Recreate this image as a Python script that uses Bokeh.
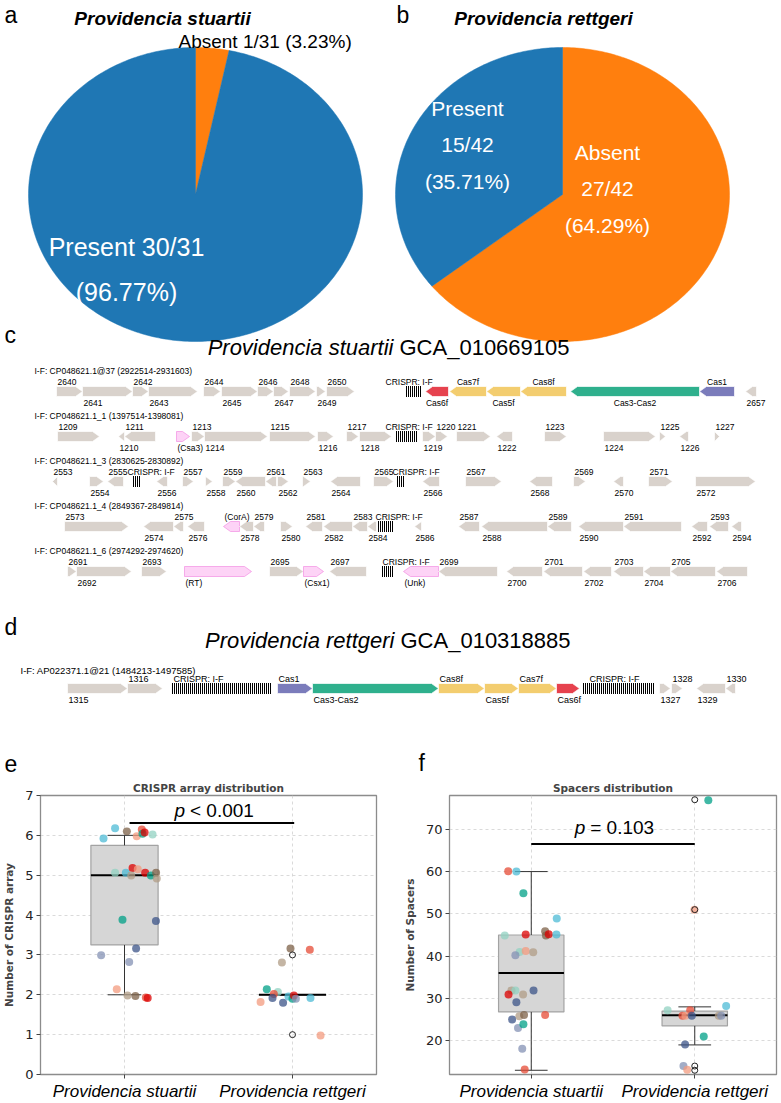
import numpy as np
from bokeh.plotting import figure
from bokeh.layouts import column, row
from bokeh.models import Range1d, FixedTicker
from bokeh.core.properties import value
from bokeh.embed import file_html
from bokeh.resources import INLINE

W = 781
H_TOP = 778
H_BOT = 1103 - H_TOP

SANS = "Liberation Sans"
MPL = "DejaVu Sans"

# ---------------- pie data ----------------
pie_labels = ["Absent", "Present"]
stuartii_counts = [1, 30]
rettgeri_counts = [27, 15]
pie_colors = ["#ff7f0e", "#1f77b4"]

# ---------------- gene neighbourhoods (track units) ----------------
# (label, start, end, strand, kind, label side)
ps_headers = [
    "I-F: CP048621.1@37 (2922514-2931603)",
    "I-F: CP048621.1_1 (1397514-1398081)",
    "I-F: CP048621.1_3 (2830625-2830892)",
    "I-F: CP048621.1_4 (2849367-2849814)",
    "I-F: CP048621.1_6 (2974292-2974620)",
]
ps_row1 = [
    ("2640", 56, 82, 1, "g", "a"), ("2641", 82, 132, 1, "g", "b"),
    ("2642", 132, 148, 1, "g", "a"), ("2643", 148, 197, 1, "g", "b"),
    ("2644", 203, 220, 1, "g", "a"), ("2645", 221, 257, 1, "g", "b"),
    ("2646", 257, 273, 1, "g", "a"), ("2647", 273, 288, 1, "g", "b"),
    ("2648", 289, 315, 1, "g", "a"), ("2649", 316, 325, 1, "g", "b"),
    ("2650", 326, 354, 1, "g", "a"), ("CRISPR: I-F", 406, 420, 0, "crispr", "a"),
    ("Cas6f", 425, 448, -1, "red", "b"), ("Cas7f", 449, 486, -1, "yellow", "a"),
    ("Cas5f", 486, 520, -1, "yellow", "b"), ("Cas8f", 520, 566, -1, "yellow", "a"),
    ("Cas3-Cas2", 570, 699, -1, "green", "b"), ("Cas1", 699, 734, -1, "purple", "a"),
    ("2657", 745, 756, -1, "g", "b"),
]
ps_row2 = [
    ("1209", 57, 99, 1, "g", "a"), ("1210", 118, 124, -1, "g", "b"),
    ("1211", 124, 155, -1, "g", "a"), ("(Csa3)", 176, 189, 1, "pink", "b"),
    ("1213", 191, 204, 1, "g", "a"), ("1214", 204, 267, 1, "g", "b"),
    ("1215", 269, 315, 1, "g", "a"), ("1216", 317, 333, 1, "g", "b"),
    ("1217", 346, 358, 1, "g", "a"), ("1218", 359, 391, 1, "g", "b"),
    ("CRISPR: I-F", 396, 417, 0, "crispr", "a"), ("1219", 422, 435, 1, "g", "b"),
    ("1220", 435, 447, 1, "g", "a"), ("1221", 456, 490, 1, "g", "a"),
    ("1222", 496, 512, -1, "g", "b"), ("1223", 544, 566, 1, "g", "a"),
    ("1224", 603, 655, 1, "g", "b"), ("1225", 659, 665, 1, "g", "a"),
    ("1226", 679, 688, -1, "g", "b"), ("1227", 714, 719, 1, "g", "a"),
]
ps_row3 = [
    ("2553", 52, 57, -1, "g", "a"), ("2554", 89, 103, 1, "g", "b"),
    ("2555", 107, 123, -1, "g", "a"), ("CRISPR: I-F", 133, 139, 0, "crispr", "a"),
    ("2556", 156, 167, -1, "g", "b"), ("2557", 182, 193, 1, "g", "a"),
    ("2558", 205, 212, 1, "g", "b"), ("2559", 222, 235, 1, "g", "a"),
    ("2560", 235, 265, -1, "g", "b"), ("2561", 265, 276, -1, "g", "a"),
    ("2562", 277, 288, 1, "g", "b"), ("2563", 302, 310, 1, "g", "a"),
    ("2564", 330, 360, -1, "g", "b"), ("2565", 373, 393, 1, "g", "a"),
    ("CRISPR: I-F", 397, 404, 0, "crispr", "a"), ("2566", 422, 439, -1, "g", "b"),
    ("2567", 465, 501, 1, "g", "a"), ("2568", 529, 552, -1, "g", "b"),
    ("2569", 573, 585, 1, "g", "a"), ("2570", 613, 623, -1, "g", "b"),
    ("2571", 648, 672, 1, "g", "a"), ("2572", 695, 755, 1, "g", "b"),
]
ps_row4 = [
    ("2573", 64, 128, 1, "g", "a"), ("2574", 143, 173, -1, "g", "b"),
    ("2575", 173, 183, -1, "g", "a"), ("2576", 187, 204, -1, "g", "b"),
    ("(CorA)", 223, 239, -1, "pink", "a"), ("2578", 239, 253, -1, "g", "b"),
    ("2579", 253, 264, -1, "g", "a"), ("2580", 280, 292, 1, "g", "b"),
    ("2581", 305, 322, -1, "g", "a"), ("2582", 323, 352, -1, "g", "b"),
    ("2583", 352, 367, -1, "g", "a"), ("2584", 367, 376, -1, "g", "b"),
    ("CRISPR: I-F", 378, 393, 0, "crispr", "a"), ("2586", 414, 421, -1, "g", "b"),
    ("2587", 458, 479, -1, "g", "a"), ("2588", 481, 547, -1, "g", "b"),
    ("2589", 547, 571, -1, "g", "a"), ("2590", 578, 623, -1, "g", "b"),
    ("2591", 623, 681, -1, "g", "a"), ("2592", 691, 707, -1, "g", "b"),
    ("2593", 709, 728, -1, "g", "a"), ("2594", 731, 741, -1, "g", "b"),
]
ps_row5 = [
    ("2691", 67, 76, 1, "g", "a"), ("2692", 76, 131, 1, "g", "b"),
    ("2693", 141, 166, 1, "g", "a"), ("(RT)", 184, 251, 1, "pink", "b"),
    ("2695", 269, 303, 1, "g", "a"), ("(Csx1)", 303, 323, 1, "pink", "b"),
    ("2697", 329, 366, -1, "g", "a"), ("CRISPR: I-F", 382, 393, 0, "crispr", "a"),
    ("(Unk)", 403, 438, -1, "pink", "b"), ("2699", 438, 497, -1, "g", "a"),
    ("2700", 506, 542, -1, "g", "b"), ("2701", 543, 582, -1, "g", "a"),
    ("2702", 583, 611, -1, "g", "b"), ("2703", 613, 643, -1, "g", "a"),
    ("2704", 643, 670, -1, "g", "b"), ("2705", 670, 715, -1, "g", "a"),
    ("2706", 716, 747, -1, "g", "b"),
]
pr_header = "I-F: AP022371.1@21 (1484213-1497585)"
pr_row = [
    ("1315", 67, 127, 1, "g", "b"), ("1316", 127, 162, 1, "g", "a"),
    ("CRISPR: I-F", 172, 270, 0, "crispr", "a"), ("Cas1", 277, 312, 1, "purple", "a"),
    ("Cas3-Cas2", 312, 438, 1, "green", "b"), ("Cas8f", 438, 484, 1, "yellow", "a"),
    ("Cas5f", 484, 518, 1, "yellow", "b"), ("Cas7f", 518, 556, 1, "yellow", "a"),
    ("Cas6f", 556, 579, 1, "red", "b"), ("CRISPR: I-F", 583, 654, 0, "crispr", "a"),
    ("1327", 659, 670, 1, "g", "b"), ("1328", 671, 682, 1, "g", "a"),
    ("1329", 696, 725, -1, "g", "b"), ("1330", 725, 735, -1, "g", "a"),
]

# left edge of each array caption, in track order
ps_crispr_caption_x = [[385], [385], [127, 392], [375], [382]]
pr_crispr_caption_x = [173, 589]

# ---------------- CRISPR array counts ----------------
groups = ["Providencia stuartii", "Providencia rettgeri"]
arr_st_x = [-0.056, -0.125, 0.014, 0.103, 0.073, 0.107, 0.12, 0.167, -0.056, 0.008,
            0.048, 0.079, 0.04, 0.123, 0.157, 0.188, 0.192, -0.012, 0.187, -0.139,
            0.069, 0.028, -0.046, 0.018, 0.065, 0.127, 0.138]
arr_st_y = [6.18, 5.92, 6.10, 6.15, 5.98, 6.04, 6.07, 6.02, 5.06, 5.06,
            5.18, 5.15, 4.99, 5.06, 4.99, 5.06, 4.92, 3.88, 3.85, 2.99,
            3.16, 2.82, 2.14, 1.98, 1.97, 1.93, 1.92]
arr_st_c = ["#4DBBD5", "#4DBBD5", "#7E6148", "#E64B35", "#F39B7F", "#00A087", "#DC0000",
            "#91D1C2", "#91D1C2", "#4DBBD5", "#DC0000", "#F39B7F", "#B09C85", "#DC0000",
            "#00A087", "#7E6148", "#B09C85", "#00A087", "#3C5488", "#8491B4", "#3C5488",
            "#8491B4", "#F39B7F", "#B09C85", "#7E6148", "#E64B35", "#DC0000"]
arr_rt_x = [0.988, 1.103, 0.937, 0.847, 0.913, 0.889, 0.881, 0.81, 0.944, 0.976,
            1.0, 1.008, 1.02, 1.107, 1.167]
arr_rt_y = [3.16, 3.13, 2.81, 2.14, 2.07, 2.02, 1.92, 1.82, 1.8, 1.96,
            1.9, 1.98, 1.9, 1.92, 0.98]
arr_rt_c = ["#7E6148", "#E64B35", "#B09C85", "#00A087", "#91D1C2", "#E64B35", "#3C5488",
            "#F39B7F", "#3C5488", "#4DBBD5", "#00A087", "#DC0000", "#8491B4", "#4DBBD5",
            "#F39B7F"]
arr_q1 = [3.25, 2.0]
arr_med = [5.0, 2.0]
arr_q3 = [5.75, 2.0]
arr_lo = [2.0, 2.0]
arr_hi = [6.0, 2.0]
arr_fl_x = [1, 1]
arr_fl_y = [3, 1]

# ---------------- spacer counts ----------------
sp_st_x = [-0.141, -0.091, -0.048, 0.156, -0.162, -0.034, 0.085, 0.09, 0.107, 0.154,
           -0.071, -0.097, -0.034, 0.012, -0.121, -0.097, -0.139, 0.014, -0.05, -0.091,
           -0.073, -0.044, 0.085, -0.117, -0.081, -0.048, -0.055, -0.04]
sp_st_y = [60.1, 60, 54.9, 48.9, 44.9, 45.1, 45.9, 44.9, 45.2, 45.1,
           41, 40.2, 41.2, 40.9, 31.9, 31.9, 30.9, 31.9, 30.9, 29.1,
           25.8, 26.1, 26.1, 25, 23, 23.9, 18.1, 13.2]
sp_st_c = ["#E64B35", "#4DBBD5", "#00A087", "#4DBBD5", "#91D1C2", "#DC0000", "#7E6148",
           "#7E6148", "#DC0000", "#4DBBD5", "#91D1C2", "#8491B4", "#F39B7F", "#B09C85",
           "#B09C85", "#91D1C2", "#DC0000", "#3C5488", "#B09C85", "#3C5488", "#B09C85",
           "#7E6148", "#E64B35", "#3C5488", "#8491B4", "#00A087", "#8491B4", "#E64B35"]
sp_rt_x = [1.083, 0.998, 1.192, 0.834, 0.972, 0.925, 0.943, 0.982, 1.147, 1.162,
           1.055, 0.941, 0.931, 0.954]
sp_rt_y = [76.9, 51, 28.2, 27.2, 27.2, 25.9, 25.9, 25.9, 25.9, 25.9,
           21, 19.1, 14, 13.1]
sp_rt_c = ["#00A087", "#F39B7F", "#4DBBD5", "#91D1C2", "#E64B35", "#E64B35", "#F39B7F",
           "#3C5488", "#B09C85", "#8491B4", "#00A087", "#3C5488", "#8491B4", "#F39B7F"]
sp_q1 = [26.8, 23.5]
sp_med = [36.0, 26.0]
sp_q3 = [45.0, 27.0]
sp_lo = [13.0, 19.0]
sp_hi = [60.0, 28.0]
sp_fl_x = [1, 1, 1, 1]
sp_fl_y = [77, 51, 14, 13]

GENE_COLORS = {
    "g": ("#d9d2cc", "white"),
    "red": ("#e6424e", "white"),
    "yellow": ("#f3cd6f", "white"),
    "green": ("#2fb08d", "white"),
    "purple": ("#7b7cbb", "white"),
    "pink": ("#fdd3f6", "#f28fe3"),
}


def txt(p, x, y, s, size, align="left", baseline="middle", style="normal",
        color="black", font=SANS, x_offset=0):
    p.text(x=[x], y=[y], text=[s], text_font=value(font), text_font_size=size,
           text_font_style=style, text_align=align, text_baseline=baseline,
           text_color=color, x_offset=x_offset)


def pie(p, counts, cx, cy, rx, ry):
    total = float(sum(counts))
    xs, ys = [], []
    start = 90.0
    for c in counts:
        sweep = 360.0 * c / total
        th = np.radians(np.linspace(start, start - sweep, int(sweep) + 3))
        xs.append([cx] + list(cx + rx * np.cos(th)))
        ys.append([cy] + list(cy - ry * np.sin(th)))
        start -= sweep
    p.patches(xs, ys, fill_color=pie_colors, line_color=pie_colors, line_width=0.5)


def track(p, genes, y, size, caption_x, h=10, head=7):
    xs, ys, fills, lines = [], [], [], []
    sx, sy0, sy1 = [], [], []
    for name, s, e, strand, kind, side in genes:
        if kind == "crispr":
            st = np.arange(s, e + 0.1, 2.0)
            sx += list(st)
            sy0 += [y - h / 2 - 0.5] * len(st)
            sy1 += [y + h / 2 + 0.5] * len(st)
        else:
            hd = min(head, e - s)
            if strand >= 0:
                gx = [s, e - hd, e, e - hd, s]
            else:
                gx = [e, s + hd, s, s + hd, e]
            xs.append(gx)
            ys.append([y - h / 2, y - h / 2, y, y + h / 2, y + h / 2])
            f, l = GENE_COLORS[kind]
            fills.append(f)
            lines.append(l)
    p.patches(xs, ys, fill_color=fills, line_color=lines, line_width=0.7)
    p.segment(x0=sx, y0=sy0, x1=sx, y1=sy1, line_color="black", line_width=1)
    k = 0
    for name, s, e, strand, kind, side in genes:
        ly = y - 10 if side == "a" else y + 11
        if kind == "crispr":
            txt(p, caption_x[k], ly, name, size)
            k += 1
        elif name.startswith("Cas") and strand < 0:
            txt(p, (s + e) / 2, ly, name, size, align="center")
        else:
            txt(p, s + 1, ly, name, size)


# ================= top panel: pies and loci =================
top = figure(width=W, height=H_TOP, x_range=Range1d(0, W), y_range=Range1d(H_TOP, 0),
             output_backend="svg", toolbar_location=None, min_border=0)
top.axis.visible = False
top.grid.visible = False
top.outline_line_color = None

for letter, lx, ly in [("a", 4, 14), ("b", 396, 14), ("c", 4, 334), ("d", 4, 626),
                       ("e", 4, 763), ("f", 418, 762)]:
    txt(top, lx, ly, letter, "23px")

txt(top, 162, 18, "Providencia stuartii", "19px", align="center", style="bold italic")
txt(top, 543, 18, "Providencia rettgeri", "19px", align="center", style="bold italic")

pie(top, stuartii_counts, 195, 194, 167, 147)
pie(top, rettgeri_counts, 562, 194, 167, 147)

txt(top, 178, 41, f"{pie_labels[0]} {stuartii_counts[0]}/{sum(stuartii_counts)} "
    f"({100 * stuartii_counts[0] / sum(stuartii_counts):.2f}%)", "19px")
txt(top, 126, 246, f"{pie_labels[1]} {stuartii_counts[1]}/{sum(stuartii_counts)}",
    "25px", align="center", color="white")
txt(top, 126, 291, f"({100 * stuartii_counts[1] / sum(stuartii_counts):.2f}%)",
    "25px", align="center", color="white")

n_r = sum(rettgeri_counts)
for i, (cx, cy) in enumerate([(607, 152), (467, 108)]):
    txt(top, cx, cy, pie_labels[i], "21px", align="center", color="white")
    txt(top, cx, cy + 36, f"{rettgeri_counts[i]}/{n_r}", "21px", align="center",
        color="white")
    txt(top, cx, cy + 73, f"({100 * rettgeri_counts[i] / n_r:.2f}%)", "21px",
        align="center", color="white")

# panel c
txt(top, 393, 347, "Providencia stuartii", "22px", align="right", style="italic")
txt(top, 393, 347, "GCA_010669105", "22px", x_offset=6)
for i, genes in enumerate([ps_row1, ps_row2, ps_row3, ps_row4, ps_row5]):
    hy = 370 + 45 * i
    txt(top, 34, hy, ps_headers[i], "8.5px")
    track(top, genes, hy + 21, "8.5px", ps_crispr_caption_x[i])

# panel d
txt(top, 394, 640, "Providencia rettgeri", "22px", align="right", style="italic")
txt(top, 394, 640, "GCA_010318885", "22px", x_offset=6)
txt(top, 20, 670, pr_header, "9.5px")
track(top, pr_row, 688, "9px", pr_crispr_caption_x)


# ================= bottom panels: strip + box plots =================
def strip_box(width, title, ylabel, ylim, yticks, q1, med, q3, lo, hi,
              pts, fl_x, fl_y, bracket, ptext, split, ty, b_left, b_right):
    p = figure(width=width, height=H_BOT, x_range=Range1d(-0.5, 1.5),
               y_range=Range1d(*ylim), output_backend="svg", toolbar_location=None,
               min_border_left=b_left, min_border_right=b_right,
               min_border_top=0, min_border_bottom=0, title=title)
    p.title.align = "center"
    p.title.text_font = MPL
    p.title.text_font_style = "bold"
    p.title.text_font_size = "10.5px"
    p.title.standoff = 3
    p.xaxis.ticker = FixedTicker(ticks=[0, 1])
    p.yaxis.ticker = FixedTicker(ticks=yticks)
    p.xgrid.ticker = FixedTicker(ticks=[0, 1])
    p.ygrid.ticker = FixedTicker(ticks=yticks)
    p.xaxis.major_label_overrides = {0: groups[0], 1: groups[1]}
    p.xaxis.major_label_text_font = SANS
    p.xaxis.major_label_text_font_style = "italic"
    p.xaxis.major_label_text_font_size = "17px"
    p.xaxis.major_label_text_color = "black"
    p.xaxis.major_label_standoff = 3
    p.yaxis.major_label_text_font = MPL
    p.yaxis.major_label_text_font_size = "13px"
    p.yaxis.major_label_text_color = "#222222"
    p.yaxis.major_label_standoff = 3
    p.yaxis.axis_label = ylabel
    p.yaxis.axis_label_text_font = MPL
    p.yaxis.axis_label_text_font_style = "bold"
    p.yaxis.axis_label_text_font_size = "10.5px"
    p.yaxis.axis_label_standoff = 7
    p.axis.axis_line_color = None
    p.axis.major_tick_line_color = "#444444"
    p.axis.major_tick_in = 0
    p.axis.major_tick_out = 4
    p.axis.minor_tick_line_color = None
    p.outline_line_color = "#8c8c8c"
    p.outline_line_width = 1.3
    p.grid.grid_line_color = "#d0d0d0"
    p.grid.grid_line_dash = "3 3"
    p.grid.grid_line_width = 0.8

    pos = [0, 1]
    p.quad(left=[x - 0.2 for x in pos], right=[x + 0.2 for x in pos], bottom=q1, top=q3,
           fill_color="#d6d6d6", line_color="#a3a3a3", line_width=1.2)
    p.segment(x0=pos, y0=lo, x1=pos, y1=q1, line_color="#333333", line_width=1)
    p.segment(x0=pos, y0=q3, x1=pos, y1=hi, line_color="#333333", line_width=1)
    for v in (lo, hi):
        p.segment(x0=[x - 0.1 for x in pos], y0=v, x1=[x + 0.1 for x in pos], y1=v,
                  line_color="#333333", line_width=1)
    p.segment(x0=[x - 0.2 for x in pos], y0=med, x1=[x + 0.2 for x in pos], y1=med,
              line_color="black", line_width=2)
    for xs, ys, cs in pts:
        p.scatter(xs, ys, size=8, fill_color=cs, fill_alpha=0.75, line_color=None)
    p.scatter(fl_x, fl_y, size=6, fill_color=None, line_color="#222222", line_width=1)

    p.line(bracket[0], bracket[1], line_color="black", line_width=2)
    p.text(x=[split], y=[ty], text=["p"], text_font=value(SANS), text_font_size="19px",
           text_font_style="italic", text_align="right", text_baseline="middle")
    p.text(x=[split], y=[ty], text=[ptext], text_font=value(SANS), text_font_size="19px",
           text_align="left", text_baseline="middle", x_offset=5)
    return p


pe = strip_box(400, "CRISPR array distribution", "Number of CRISPR array", (0, 7),
               list(range(0, 8)), arr_q1, arr_med, arr_q3, arr_lo, arr_hi,
               [(arr_st_x, arr_st_y, arr_st_c), (arr_rt_x, arr_rt_y, arr_rt_c)],
               arr_fl_x, arr_fl_y, ([0.03, 1.01], [6.31, 6.31]), "< 0.001",
               0.36, 6.62, 38, 24)
pf = strip_box(381, "Spacers distribution", "Number of Spacers", (12, 78),
               [20, 30, 40, 50, 60, 70], sp_q1, sp_med, sp_q3, sp_lo, sp_hi,
               [(sp_st_x, sp_st_y, sp_st_c), (sp_rt_x, sp_rt_y, sp_rt_c)],
               sp_fl_x, sp_fl_y, ([0.0, 1.0], [66.5, 66.5]), "= 0.103",
               0.33, 70.5, 48, 5)

layout = column(top, row(pe, pf, spacing=0), spacing=0)
open("out.html", "w").write(file_html(layout, INLINE))
